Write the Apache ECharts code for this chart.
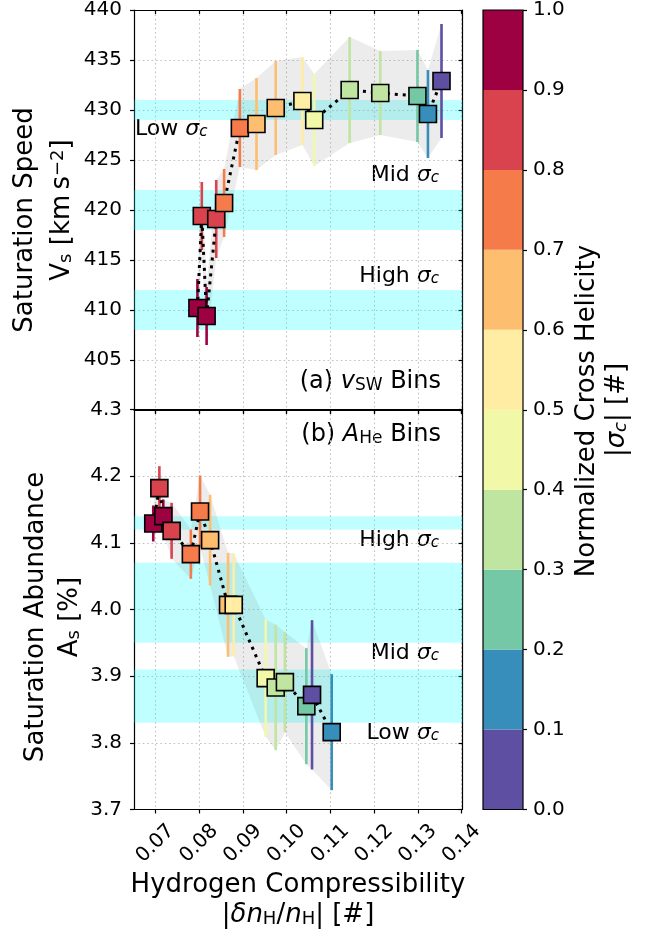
<!DOCTYPE html>
<html><head><meta charset="utf-8">
<script src="https://cdn.jsdelivr.net/npm/echarts@6/dist/echarts.min.js"></script>
<style>html,body{margin:0;padding:0;background:#fff}#c{width:652px;height:938px}</style>
</head><body><div id="c"></div>
<script>
// ---------- data ----------
const xTicks = [0.07, 0.08, 0.09, 0.10, 0.11, 0.12, 0.13, 0.14];
const xMin = 0.0651, xMax = 0.1402;

// (a) v_SW bins
const topX     = [0.0796, 0.0806, 0.0817, 0.0839, 0.0857, 0.0893, 0.0931, 0.0975, 0.1036, 0.1063, 0.1144, 0.1214, 0.1299, 0.1323, 0.1354];
const topY     = [410.2, 419.4, 409.4, 419.1, 420.7, 428.2, 428.6, 430.2, 430.9, 429.0, 432.0, 431.7, 431.4, 429.6, 432.9];
const topErr   = [2.9, 3.4, 2.9, 3.9, 3.4, 3.9, 4.6, 4.7, 4.4, 4.6, 5.3, 4.2, 4.6, 4.4, 5.7];
const topSigma = [0.95, 0.85, 0.95, 0.85, 0.75, 0.75, 0.65, 0.65, 0.55, 0.45, 0.35, 0.35, 0.25, 0.15, 0.05];
const topBands = [[408, 412], [418, 422], [429, 431]];

// (b) A_He bins
const botX     = [0.0695, 0.0709, 0.0718, 0.0737, 0.0781, 0.0802, 0.0825, 0.0866, 0.0879, 0.0952, 0.0975, 0.0996, 0.1045, 0.1058, 0.1103];
const botY     = [4.129, 4.182, 4.140, 4.118, 4.083, 4.147, 4.104, 4.007, 4.007, 3.897, 3.883, 3.891, 3.855, 3.872, 3.816];
const botErr   = [0.027, 0.033, 0.025, 0.042, 0.037, 0.054, 0.068, 0.078, 0.077, 0.088, 0.094, 0.075, 0.087, 0.112, 0.087];
const botSigma = [0.95, 0.85, 0.95, 0.85, 0.75, 0.75, 0.65, 0.65, 0.55, 0.45, 0.35, 0.35, 0.25, 0.05, 0.15];
const botBands = [[3.83, 3.91], [3.95, 4.07], [4.12, 4.14]];

// colour bar (Spectral_r, 10 bins)
const cbBounds = [0.0, 0.1, 0.2, 0.3, 0.4, 0.5, 0.6, 0.7, 0.8, 0.9, 1.0];
const palette  = ['#5e4fa2', '#388eba', '#75c8a5', '#bfe5a0', '#f1f9a9', '#feeda2', '#fdbf6f', '#f67b4a', '#d8434e', '#9e0142'];

// ---------- helpers ----------
const FONT = 'DejaVu Sans';
function colorOf(s) { return palette[Math.max(0, Math.min(9, Math.floor(s * 10)))]; }

const chart = echarts.init(document.getElementById('c'), null, {renderer: 'canvas'});

const gridLine = {show: true, lineStyle: {color: '#c2c2c2', width: 1.1, type: [1.6, 2.8]}};
const blackLine = {color: '#000', width: 1.2};
const tickFont = {fontFamily: FONT, fontSize: 20, color: '#000'};

function xAxis(grid, pos, showLabel) {
  return {
    type: 'value', gridIndex: grid, position: pos, min: xMin, max: xMax, splitNumber: 8,
    axisLine: {show: true, onZero: false, lineStyle: blackLine},
    axisTick: {show: true, inside: pos === 'top', length: 4, customValues: xTicks, lineStyle: blackLine},
    axisLabel: Object.assign({show: showLabel, customValues: xTicks, rotate: 45, margin: 34,
      align: 'center', verticalAlign: 'middle', formatter: v => v.toFixed(2)}, tickFont),
    splitLine: pos === 'bottom' ? gridLine : {show: false}
  };
}
function yAxis(grid, pos, min, max, interval, dec, showMin) {
  return {
    type: 'value', gridIndex: grid, position: pos, min, max, interval,
    axisLine: {show: true, onZero: false, lineStyle: blackLine},
    axisTick: {show: true, inside: pos === 'right', length: 4, lineStyle: blackLine},
    axisLabel: Object.assign({show: pos === 'left', margin: 12, showMinLabel: showMin,
      formatter: v => v.toFixed(dec)}, tickFont),
    splitLine: pos === 'left' ? gridLine : {show: false}
  };
}

function panelSeries(xi, yi, X, Y, E, S, bands) {
  const rows = X.map((x, i) => [x, Y[i] - E[i], Y[i] + E[i], S[i]]);
  return [
    { // horizontal cyan bands
      type: 'custom', xAxisIndex: xi, yAxisIndex: yi, z: 1, silent: true,
      data: bands.map(b => [xMin, b[0], b[1]]), encode: {x: 0, y: [1, 2]},
      renderItem: (params, api) => {
        const cs = params.coordSys;
        const yTop = api.coord([api.value(0), api.value(2)])[1];
        const yBot = api.coord([api.value(0), api.value(1)])[1];
        return {type: 'rect', shape: {x: cs.x, y: yTop, width: cs.width, height: yBot - yTop},
                style: {fill: 'rgba(0,255,255,0.25)'}};
      }
    },
    { // grey envelope
      type: 'custom', xAxisIndex: xi, yAxisIndex: yi, z: 2, silent: true,
      data: rows, encode: {x: 0, y: [1, 2]},
      renderItem: (params, api) => {
        if (params.dataIndex !== 0) return null;
        const pts = [];
        for (let i = 0; i < rows.length; i++) pts.push(api.coord([rows[i][0], rows[i][2]]));
        for (let i = rows.length - 1; i >= 0; i--) pts.push(api.coord([rows[i][0], rows[i][1]]));
        return {type: 'polygon', shape: {points: pts}, style: {fill: 'rgba(128,128,128,0.15)'}};
      }
    },
    { // error bars
      type: 'custom', xAxisIndex: xi, yAxisIndex: yi, z: 3, silent: true,
      data: rows, encode: {x: 0, y: [1, 2]},
      renderItem: (params, api) => {
        const p0 = api.coord([api.value(0), api.value(1)]);
        const p1 = api.coord([api.value(0), api.value(2)]);
        return {type: 'line', shape: {x1: p0[0], y1: p0[1], x2: p1[0], y2: p1[1]},
                style: {stroke: colorOf(api.value(3)), lineWidth: 2.6}};
      }
    },
    { // dotted connecting line
      type: 'line', xAxisIndex: xi, yAxisIndex: yi, z: 4, silent: true,
      data: X.map((x, i) => [x, Y[i]]), symbol: 'none', showSymbol: false,
      lineStyle: {color: '#000', width: 3, type: [3, 5]}
    },
    { // squares
      type: 'scatter', xAxisIndex: xi, yAxisIndex: yi, z: 5, silent: true,
      symbol: 'rect', symbolSize: 17,
      data: X.map((x, i) => ({value: [x, Y[i]], itemStyle: {color: colorOf(S[i])}})),
      itemStyle: {borderColor: '#000', borderWidth: 1.6, opacity: 1}
    }
  ];
}

// rich-text styles
function rich(fs) {
  return {
    n: {fontFamily: FONT, fontSize: fs, color: '#000'},
    i: {fontFamily: FONT, fontSize: fs, fontStyle: 'italic', color: '#000'},
    s: {fontFamily: FONT, fontSize: Math.round(fs * 0.7), color: '#000', verticalAlign: 'bottom', lineHeight: Math.round(fs * 0.65)},
    si: {fontFamily: FONT, fontSize: Math.round(fs * 0.7), fontStyle: 'italic', color: '#000', verticalAlign: 'bottom', lineHeight: Math.round(fs * 0.65)},
    p: {fontFamily: FONT, fontSize: Math.round(fs * 0.7), color: '#000', verticalAlign: 'top', lineHeight: Math.round(fs * 0.45)}
  };
}
function txt(text, x, y, fs, align, rot) {
  return {type: 'text', x, y, rotation: rot || 0, silent: true,
    style: {text, rich: rich(fs), align: align || 'center', verticalAlign: 'middle', fontFamily: FONT, fontSize: fs}};
}
const R90 = Math.PI / 2;

const option = {
  animation: false,
  backgroundColor: '#fff',
  grid: [
    {left: 134, width: 328.5, top: 10, height: 400},
    {left: 134, width: 328.5, top: 409.5, height: 400},
    {left: 483, width: 40, top: 10, height: 799.5, show: true, z: 10,
     backgroundColor: 'transparent', borderColor: '#000', borderWidth: 1.2}
  ],
  xAxis: [
    xAxis(0, 'bottom', false), xAxis(0, 'top', false),
    xAxis(1, 'bottom', true),  xAxis(1, 'top', false),
    {type: 'category', gridIndex: 2, data: ['cb'], show: false}
  ],
  yAxis: [
    yAxis(0, 'left', 400, 440, 5, 0, false), yAxis(0, 'right', 400, 440, 5, 0, false),
    yAxis(1, 'left', 3.7, 4.3, 0.1, 1, true), yAxis(1, 'right', 3.7, 4.3, 0.1, 1, true),
    {type: 'value', gridIndex: 2, position: 'right', min: 0, max: 1, interval: 0.1,
     axisLine: {show: false}, axisTick: {show: true, length: 4, lineStyle: blackLine},
     axisLabel: Object.assign({margin: 10, formatter: v => v.toFixed(1)}, tickFont),
     splitLine: {show: false}}
  ],
  series: [
    ...panelSeries(0, 0, topX, topY, topErr, topSigma, topBands),
    ...panelSeries(2, 2, botX, botY, botErr, botSigma, botBands),
    {
      type: 'custom', xAxisIndex: 4, yAxisIndex: 4, silent: true, z: 2,
      data: palette.map((c, i) => [0, cbBounds[i], cbBounds[i + 1]]), encode: {x: 0, y: [1, 2]},
      renderItem: (params, api) => {
        const cs = params.coordSys;
        const yTop = api.coord([0, api.value(2)])[1];
        const yBot = api.coord([0, api.value(1)])[1];
        return {type: 'rect', shape: {x: cs.x, y: yTop, width: cs.width, height: yBot - yTop},
                style: {fill: palette[params.dataIndex]}};
      }
    }
  ],
  graphic: [
    txt('{n|Saturation Speed}', 25, 220, 26, 'center', R90),
    txt('{n|V}{s|s}{n| [km\u2009s}{p|\u22122}{n|]}', 62, 210, 26, 'center', R90),
    txt('{n|Saturation Abundance}', 36, 617, 26, 'center', R90),
    txt('{n|A}{s|s}{n| [%]}', 70, 617, 26, 'center', R90),
    txt('{n|Hydrogen Compressibility}', 298, 885, 26, 'center', 0),
    txt('{n||}{i|\u03b4n}{s|H}{n|/}{i|n}{s|H}{n|| [#]}', 298, 915, 26, 'center', 0),
    txt('{n|Normalized Cross Helicity}', 587, 411, 26, 'center', R90),
    txt('{n||}{i|\u03c3}{si|c}{n|| [#]}', 617, 410, 26, 'center', R90),
    txt('{n|Low }{i|\u03c3}{si|c}', 135, 129, 22, 'left', 0),
    txt('{n|Mid }{i|\u03c3}{si|c}', 439, 175, 22, 'right', 0),
    txt('{n|High }{i|\u03c3}{si|c}', 439, 276, 22, 'right', 0),
    txt('{n|(a) }{i|v}{s|SW}{n| Bins}', 441, 382, 24, 'right', 0),
    txt('{n|(b) }{i|A}{s|He}{n| Bins}', 441, 435, 24, 'right', 0),
    txt('{n|High }{i|\u03c3}{si|c}', 439, 540, 22, 'right', 0),
    txt('{n|Mid }{i|\u03c3}{si|c}', 439, 653, 22, 'right', 0),
    txt('{n|Low }{i|\u03c3}{si|c}', 439, 733, 22, 'right', 0)
  ]
};
chart.setOption(option);
</script>
</body></html>
